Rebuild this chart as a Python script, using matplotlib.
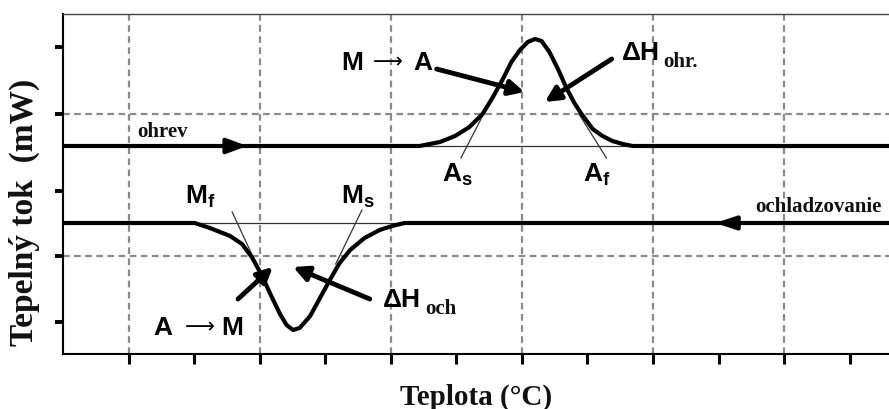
import matplotlib.pyplot as plt

plt.rcParams['mathtext.fontset'] = 'custom'
plt.rcParams['mathtext.bf'] = 'Liberation Sans:bold'
plt.rcParams['mathtext.rm'] = 'Liberation Sans'

# heating curve (ohrev) with endothermic peak M -> A
heat_x = [0, 5.44, 5.75, 5.98, 6.20, 6.40, 6.55, 6.71, 6.84, 6.97, 7.09, 7.20, 7.30, 7.42,
          7.55, 7.68, 7.80, 7.91, 8.08, 8.23, 8.38, 8.54, 8.69, 12.6]
heat_y = [20.8, 20.8, 21.2, 21.8, 22.7, 24.0, 25.6, 27.5, 29.2, 30.4, 31.2, 31.5, 31.3, 30.2,
          28.5, 26.6, 25.1, 24.0, 22.5, 21.8, 21.3, 21.0, 20.8, 20.8]

# cooling curve (ochladzovanie) with exothermic dip A -> M
cool_x = [0, 2.01, 2.24, 2.55, 2.73, 2.88, 3.03, 3.17, 3.31, 3.41, 3.51, 3.61, 3.77, 3.92,
          4.07, 4.22, 4.38, 4.60, 4.83, 5.02, 5.21, 12.6]
cool_y = [13.1, 13.1, 12.6, 11.8, 11.0, 9.7, 7.9, 5.9, 4.0, 2.9, 2.4, 2.6, 3.8, 5.6,
          7.4, 9.1, 10.4, 11.6, 12.4, 12.8, 13.1, 13.1]

# tangents used to read the transformation temperatures
tangents = {
    'As': ([6.07, 6.51], [19.6, 25.2]),
    'Af': ([8.29, 7.88], [19.6, 23.9]),
    'Mf': ([2.58, 2.97], [14.2, 8.7]),
    'Ms': ([4.56, 4.16], [14.4, 9.0]),
    'heat_base': ([5.2, 8.9], [20.8, 20.8]),
    'cool_base': ([2.0, 5.4], [13.1, 13.1]),
}

x_ticks = [1, 2, 3, 4, 5, 6, 7, 8, 9, 10, 11, 12]
y_ticks = [3.2, 9.8, 16.3, 24.0, 30.7]
x_grid = [1, 3, 5, 7, 9, 11]
y_grid = [9.8, 24.0]

fig = plt.figure(figsize=(8.89, 4.10), dpi=100)
ax = fig.add_axes([63 / 889, 55 / 410, 826 / 889, 340 / 410])
ax.set_xlim(0, 12.6)
ax.set_ylim(0, 34)

for gx in x_grid:
    ax.axvline(gx, color='#8a8a8a', lw=1.6, ls=(0, (3, 2)), zorder=1)
for gy in y_grid:
    ax.axhline(gy, color='#8a8a8a', lw=1.6, ls=(0, (3, 2)), zorder=1)

for name, (tx, ty) in tangents.items():
    ax.plot(tx, ty, color='#333333', lw=0.9, zorder=2)

ax.plot(heat_x, heat_y, color='black', lw=3, solid_capstyle='butt', zorder=3)
ax.plot(cool_x, cool_y, color='black', lw=3, solid_capstyle='butt', zorder=3)

# direction arrowheads on the curves
ax.annotate('', xy=(2.85, heat_y[0]), xytext=(2.5, heat_y[0]),
            arrowprops=dict(arrowstyle='-|>,head_length=1.2,head_width=0.45', color='black', lw=3), zorder=4)
ax.annotate('', xy=(9.91, cool_y[-1]), xytext=(10.3, cool_y[-1]),
            arrowprops=dict(arrowstyle='-|>,head_length=1.2,head_width=0.4', color='black', lw=3), zorder=4)

# pointer arrows
arr = dict(arrowstyle='-|>,head_length=0.9,head_width=0.45', color='black', lw=3.5, shrinkA=0, shrinkB=0)
ax.annotate('', xy=(7.04, 26.2), xytext=(5.70, 28.5), arrowprops=arr)
ax.annotate('', xy=(7.35, 25.2), xytext=(8.37, 29.5), arrowprops=arr)
ax.annotate('', xy=(3.20, 8.7), xytext=(2.67, 5.5), arrowprops=arr)
ax.annotate('', xy=(3.51, 8.7), xytext=(4.68, 5.5), arrowprops=arr)

sans = dict(family='Liberation Sans', weight='bold', fontsize=19, color='black')
serif = dict(family='Liberation Serif', weight='bold', color='#111111')

ax.text(4.41, 29.2, 'M', ha='center', va='center', **sans)
ax.text(4.95, 29.3, '⟶', ha='center', va='center', family='DejaVu Sans', fontsize=15)
ax.text(5.49, 29.2, 'A', ha='center', va='center', **sans)

ax.text(1.52, 2.7, 'A', ha='center', va='center', **sans)
ax.text(2.09, 2.8, '⟶', ha='center', va='center', family='DejaVu Sans', fontsize=15)
ax.text(2.58, 2.7, 'M', ha='center', va='center', **sans)

ax.text(8.52, 30.2, 'ΔH', ha='left', va='center', **sans)
ax.text(9.15, 29.3, 'ohr.', ha='left', va='center', fontsize=15, **serif)
ax.text(4.88, 5.5, 'ΔH', ha='left', va='center', **sans)
ax.text(5.52, 4.6, 'och', ha='left', va='center', fontsize=15, **serif)

ax.text(6.01, 18.0, r'$\mathbf{A_s}$', ha='center', va='center', fontsize=19)
ax.text(8.14, 18.0, r'$\mathbf{A_f}$', ha='center', va='center', fontsize=19)
ax.text(2.10, 15.8, r'$\mathbf{M_f}$', ha='center', va='center', fontsize=19)
ax.text(4.50, 15.8, r'$\mathbf{M_s}$', ha='center', va='center', fontsize=19)

ax.text(1.14, 22.3, 'ohrev', ha='left', va='center', fontsize=15, **serif)
ax.text(12.48, 14.8, 'ochladzovanie', ha='right', va='center', fontsize=15, **serif)

ax.set_xticks(x_ticks)
ax.set_yticks(y_ticks)
ax.set_xticklabels([])
ax.set_yticklabels([])
ax.tick_params(axis='x', direction='out', length=7, width=2.2, color='black')
ax.tick_params(axis='y', direction='out', length=6, width=2.8, color='black')

ax.spines['right'].set_visible(False)
ax.spines['top'].set_color('#444444')
ax.spines['top'].set_linewidth(1)
ax.spines['left'].set_linewidth(1.5)
ax.spines['bottom'].set_linewidth(1.5)

ax.set_xlabel('Teplota (°C)', fontsize=21, **serif)
ax.xaxis.set_label_coords(0.5, -0.083)
ax.set_ylabel('Tepelný tok  (mW)', fontsize=24, **serif)
ax.yaxis.set_label_coords(-0.028, 0.42)

plt.savefig('out.png', dpi=100)
